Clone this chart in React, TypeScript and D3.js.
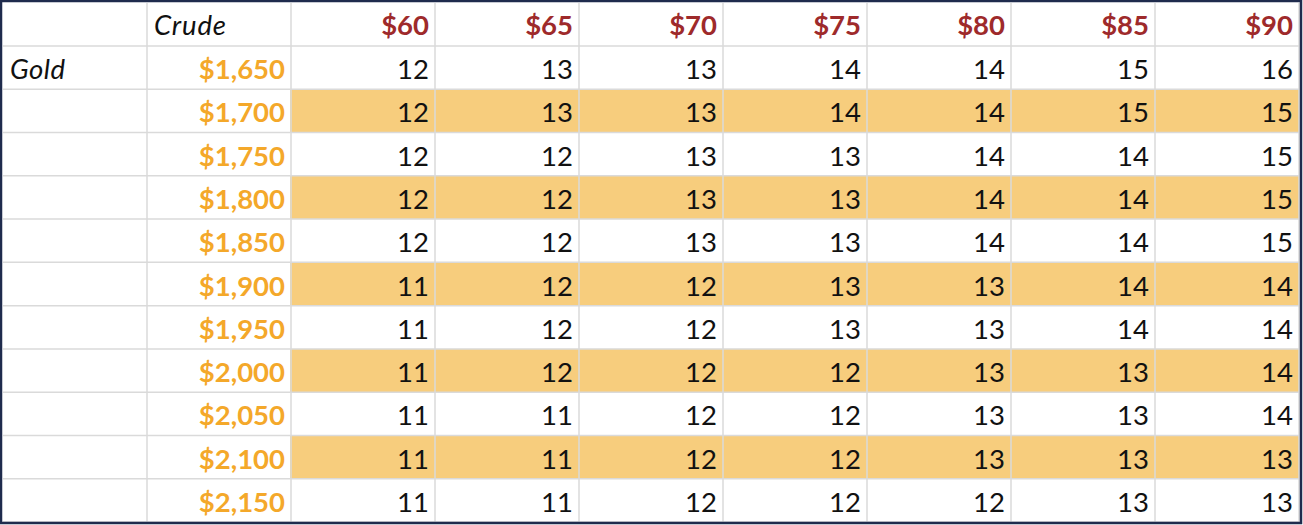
import { useEffect } from 'react'
import * as d3 from 'd3'

const width = 1303
const height = 525

const crudePrices = [60, 65, 70, 75, 80, 85, 90]
const goldPrices = [1650, 1700, 1750, 1800, 1850, 1900, 1950, 2000, 2050, 2100, 2150]
const values = [
  [12, 13, 13, 14, 14, 15, 16],
  [12, 13, 13, 14, 14, 15, 15],
  [12, 12, 13, 13, 14, 14, 15],
  [12, 12, 13, 13, 14, 14, 15],
  [12, 12, 13, 13, 14, 14, 15],
  [11, 12, 12, 13, 13, 14, 14],
  [11, 12, 12, 13, 13, 14, 14],
  [11, 12, 12, 12, 13, 13, 14],
  [11, 11, 12, 12, 13, 13, 14],
  [11, 11, 12, 12, 13, 13, 13],
  [11, 11, 12, 12, 12, 13, 13]
]

const fmt = d3.format('$,')
const font = 'Lato, "Noto Sans", sans-serif'

const App = () => {
  useEffect(() => {
    document.body.style.margin = '0'
  }, [])

  // column 0 = gold price, columns 1..7 = crude
  const cols = d3.range(crudePrices.length + 1)
  const x = d3.scaleBand<number>().domain(cols).range([147, 1299])
  const y = d3.scaleBand<number>().domain(d3.range(goldPrices.length)).range([46, 522])
  const headerTop = 3
  const headerBottom = y.range()[0]
  const right = x.range()[1]
  const base = (i: number) => y(i)! + y.bandwidth() / 2 + 11.5

  const gridX = [147, ...cols.map((c) => x(c)! + x.bandwidth())]
  const gridY = [headerBottom, ...goldPrices.map((_, i) => y(i)! + y.bandwidth())]

  return (
    <svg width={width} height={height} style={{ display: 'block' }}>
      <rect x={0} y={0} width={width} height={height} fill='white' />

      {/* banded rows */}
      {goldPrices.map((g, i) =>
        i % 2 === 1 ? (
          <rect
            key={'band' + g}
            x={x(1)! - 1}
            y={y(i)!}
            width={right - x(1)! + 1}
            height={y.bandwidth()}
            fill='#f7cd7d'
          />
        ) : null
      )}

      {/* grid */}
      {gridX.map((gx) => (
        <line key={'gx' + gx} x1={gx} x2={gx} y1={headerTop} y2={522} stroke='#dadada' strokeWidth={1.5} />
      ))}
      {gridY.map((gy) => (
        <line key={'gy' + gy} x1={3} x2={right} y1={gy} y2={gy} stroke='#dadada' strokeWidth={1.5} />
      ))}

      {/* header */}
      <g fontFamily={font} fontSize={27.5}>
        <text x={154} y={headerBottom - 11} fontStyle='italic' fill='#111' letterSpacing={0.8}>
          Crude
        </text>
        {crudePrices.map((c, j) => (
          <text
            key={'c' + c}
            x={x(j + 1)! + x.bandwidth() - 6}
            y={headerBottom - 11}
            textAnchor='end'
            fontWeight='bold'
            fill='#9e2a2b'
          >
            {fmt(c)}
          </text>
        ))}
        <text x={10} y={base(0)} fontStyle='italic' fill='#111' letterSpacing={0.5}>
          Gold
        </text>
        {goldPrices.map((g, i) => (
          <g key={'r' + g}>
            <text
              x={x(0)! + x.bandwidth() - 6}
              y={base(i)}
              textAnchor='end'
              fontWeight='bold'
              fill='#f4a82a'
            >
              {fmt(g)}
            </text>
            {values[i].map((v, j) => (
              <text key={j} x={x(j + 1)! + x.bandwidth() - 6} y={base(i)} textAnchor='end' fill='#111'>
                {v}
              </text>
            ))}
          </g>
        ))}
      </g>

      {/* outer frame */}
      <rect x={1} y={1} width={width - 3} height={height - 3} fill='none' stroke='#1f2b4d' strokeWidth={2.5} />
    </svg>
  )
}

export default App
